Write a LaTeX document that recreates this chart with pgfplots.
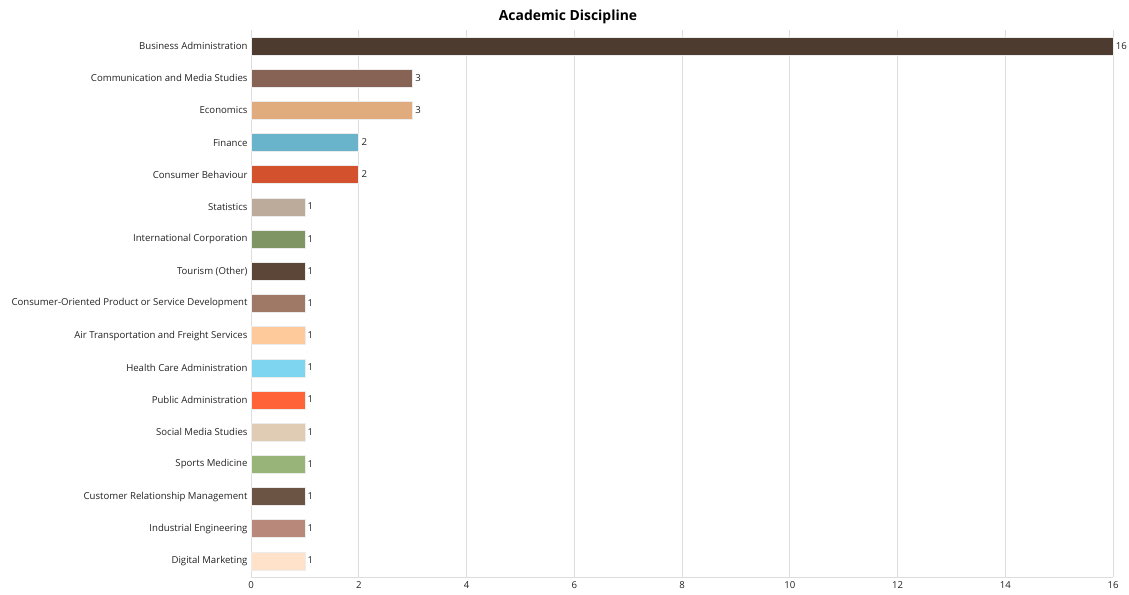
\documentclass[border=0pt]{standalone}
\usepackage{fontspec}
\setmainfont{Open Sans}
\usepackage{pgfplots}
\pgfplotsset{compat=1.18}
\definecolor{c0}{HTML}{4E3B30}
\definecolor{c1}{HTML}{876355}
\definecolor{c2}{HTML}{E0AC7E}
\definecolor{c3}{HTML}{69B3CB}
\definecolor{c4}{HTML}{D4512D}
\definecolor{c5}{HTML}{BCAA9A}
\definecolor{c6}{HTML}{7F9563}
\definecolor{c7}{HTML}{5C4637}
\definecolor{c8}{HTML}{A07966}
\definecolor{c9}{HTML}{FFCA9B}
\definecolor{c10}{HTML}{7DD5F0}
\definecolor{c11}{HTML}{FF6337}
\definecolor{c12}{HTML}{E0CBB5}
\definecolor{c13}{HTML}{98B478}
\definecolor{c14}{HTML}{6B5443}
\definecolor{c15}{HTML}{B8897A}
\definecolor{c16}{HTML}{FFE2C9}
\definecolor{gridc}{HTML}{DDDDDD}
\definecolor{txt}{HTML}{222222}
\begin{document}
\begin{tikzpicture}
\path[use as bounding box] (-251pt,-17pt) rectangle (878pt,577pt);
\begin{axis}[
  at={(0,0)}, anchor=south west,
  scale only axis,
  width=862pt, height=547pt,
  xmin=0, xmax=16,
  ymin=-0.5, ymax=16.5,
  y dir=reverse,
  xbar, bar shift=0pt, bar width=18pt,
  xtick={0,2,...,16},
  ytick={0,...,16},
  yticklabels={Business Administration,Communication and Media Studies,Economics,Finance,Consumer Behaviour,Statistics,International Corporation,Tourism (Other),Consumer-Oriented Product or Service Development,Air Transportation and Freight Services,Health Care Administration,Public Administration,Social Media Studies,Sports Medicine,Customer Relationship Management,Industrial Engineering,Digital Marketing},
  xmajorgrids, grid style={gridc, line width=0.8pt},
  axis x line*=bottom, axis y line*=left,
  axis line style={gridc, line width=0.8pt, -},
  major tick length=0pt,
  tick label style={font=\fontsize{9.6}{11}\selectfont, text=txt},
  /pgf/number format/assume math mode=true,
  xticklabel style={yshift=-1pt},
  yticklabel style={xshift=0pt},
  nodes near coords,
  nodes near coords style={font=\fontsize{9.6}{11}\selectfont, text=txt, xshift=-0.8pt, yshift=0.5pt},
  clip=false,
  every axis plot/.append style={draw=white!85!gray, line width=0.6pt},
]
\addplot[fill=c0] coordinates {(16,0)};
\addplot[fill=c1] coordinates {(3,1)};
\addplot[fill=c2] coordinates {(3,2)};
\addplot[fill=c3] coordinates {(2,3)};
\addplot[fill=c4] coordinates {(2,4)};
\addplot[fill=c5] coordinates {(1,5)};
\addplot[fill=c6] coordinates {(1,6)};
\addplot[fill=c7] coordinates {(1,7)};
\addplot[fill=c8] coordinates {(1,8)};
\addplot[fill=c9] coordinates {(1,9)};
\addplot[fill=c10] coordinates {(1,10)};
\addplot[fill=c11] coordinates {(1,11)};
\addplot[fill=c12] coordinates {(1,12)};
\addplot[fill=c13] coordinates {(1,13)};
\addplot[fill=c14] coordinates {(1,14)};
\addplot[fill=c15] coordinates {(1,15)};
\addplot[fill=c16] coordinates {(1,16)};
\end{axis}
\node[font=\fontsize{13.9}{16}\selectfont\bfseries, text=black] at (317pt,560pt) {Academic Discipline};
\end{tikzpicture}
\end{document}
